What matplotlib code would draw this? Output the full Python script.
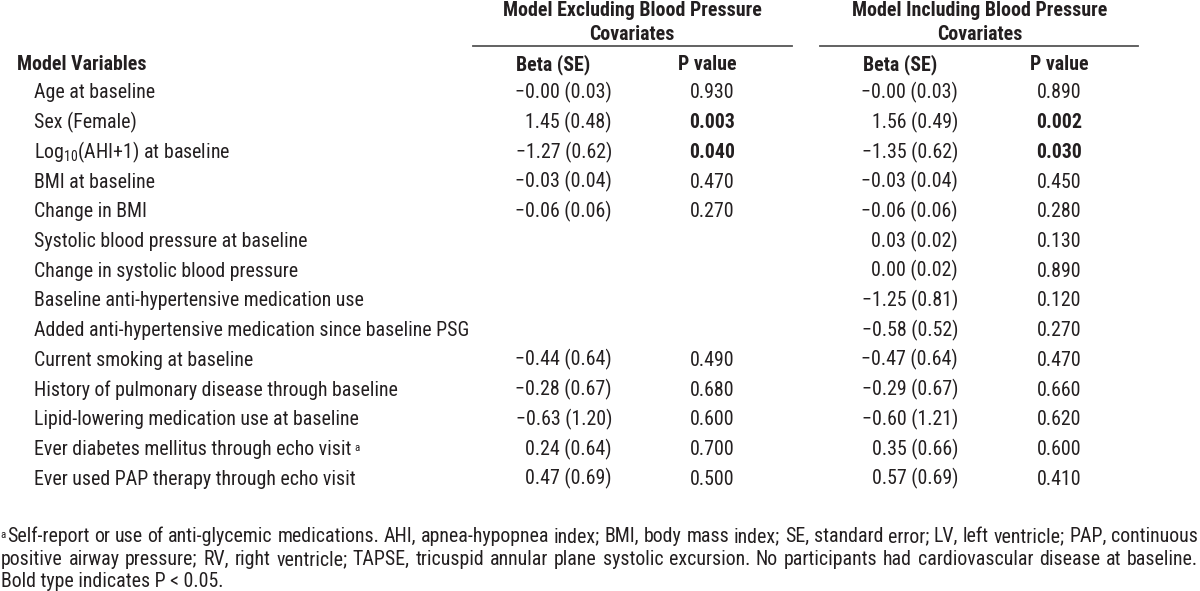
import matplotlib
matplotlib.use('Agg')
import matplotlib.pyplot as plt

# table content
labels = ['Age at baseline', 'Sex (Female)', 'Log$_{10}$(AHI+1) at baseline',
          'BMI at baseline', 'Change in BMI', 'Systolic blood pressure at baseline',
          'Change in systolic blood pressure', 'Baseline anti-hypertensive medication use',
          'Added anti-hypertensive medication since baseline PSG',
          'Current smoking at baseline', 'History of pulmonary disease through baseline',
          'Lipid-lowering medication use at baseline',
          'Ever diabetes mellitus through echo visit', 'Ever used PAP therapy through echo visit']
excl_beta = [-0.0, 1.45, -1.27, -0.03, -0.06, None, None, None, None, -0.44, -0.28, -0.63, 0.24, 0.47]
excl_se = [0.03, 0.48, 0.62, 0.04, 0.06, None, None, None, None, 0.64, 0.67, 1.20, 0.64, 0.69]
excl_p = [0.930, 0.003, 0.040, 0.470, 0.270, None, None, None, None, 0.490, 0.680, 0.600, 0.700, 0.500]
incl_beta = [-0.0, 1.56, -1.35, -0.03, -0.06, 0.03, 0.00, -1.25, -0.58, -0.47, -0.29, -0.60, 0.35, 0.57]
incl_se = [0.03, 0.49, 0.62, 0.04, 0.06, 0.02, 0.02, 0.81, 0.52, 0.64, 0.67, 1.21, 0.66, 0.69]
incl_p = [0.890, 0.002, 0.030, 0.450, 0.280, 0.130, 0.890, 0.120, 0.270, 0.470, 0.660, 0.620, 0.600, 0.410]
footnote_marks = {12: 'a'}
footnote = ['Self-report or use of anti-glycemic medications. AHI, apnea-hypopnea index; BMI, body mass index; SE, standard error; LV, left ventricle; PAP, continuous',
            'positive airway pressure; RV, right ventricle; TAPSE, tricuspid annular plane systolic excursion. No participants had cardiovascular disease at baseline.',
            'Bold type indicates P < 0.05.']

FONT = ['Roboto Condensed', 'DejaVu Sans']
plt.rcParams['font.family'] = FONT
plt.rcParams['mathtext.fontset'] = 'custom'
plt.rcParams['mathtext.rm'] = 'Roboto Condensed'
plt.rcParams['mathtext.it'] = 'Roboto Condensed:italic'
plt.rcParams['mathtext.bf'] = 'Roboto Condensed:bold'
INK = '#231f20'
BASE = 7  # baseline sits this far below the middle of the capitals


def fmt_beta(b, se):
    return ('%.2f (%.2f)' % (b, se)).replace('-', '\u2212')


def put(x, y, s, **kw):
    kw.setdefault('fontsize', FS)
    kw.setdefault('color', INK)
    return ax.text(x, y + BASE, s, va='baseline', **kw)


fig = plt.figure(figsize=(12, 5.91), dpi=100)
ax = fig.add_axes([0, 0, 1, 1])
ax.set_xlim(0, 1200)
ax.set_ylim(591, 0)
ax.axis('off')
fig.canvas.draw()
rend = fig.canvas.get_renderer()

# pick the font size so the longest label spans about the same width as in the print
probe = ax.text(0, 0, labels[8], fontsize=14)
FS = 14 * 438.0 / probe.get_window_extent(rend).width
probe.remove()

# group headers
for cx, (l0, l1), (x0, x1) in [(632, ('Model Excluding Blood Pressure', 'Covariates'), (473, 792)),
                               (980, ('Model Including Blood Pressure', 'Covariates'), (820, 1138))]:
    put(cx, 9, l0, ha='center', fontweight='bold')
    put(cx, 33, l1, ha='center', fontweight='bold')
    ax.plot([x0, x1], [46, 46], color='#555555', lw=1.3)

put(17, 63, 'Model Variables', ha='left', fontweight='bold')
for cx, s in [(553, 'Beta (SE)'), (707, 'P value'), (900, 'Beta (SE)'), (1059, 'P value')]:
    put(cx, 63, s, ha='center', fontweight='bold')

row0, step = 91.5, 29.7
for i, lab in enumerate(labels):
    y = row0 + step * i
    t = put(34, y, lab, ha='left')
    if i in footnote_marks:
        bb = t.get_window_extent(rend)
        put(bb.x1 + 3, y - 4, footnote_marks[i], ha='left', fontsize=FS * 0.55)
    if excl_beta[i] is not None:
        put(612, y, fmt_beta(excl_beta[i], excl_se[i]), ha='right')
        put(712, y, '%.3f' % excl_p[i], ha='center',
            fontweight='bold' if excl_p[i] < 0.05 else 'normal')
    put(958, y, fmt_beta(incl_beta[i], incl_se[i]), ha='right')
    put(1059, y, '%.3f' % incl_p[i], ha='center',
        fontweight='bold' if incl_p[i] < 0.05 else 'normal')

# footnote, first two lines justified
foot_y = [535, 558, 580]
put(0, foot_y[0] - 4, 'a', ha='left', fontsize=FS * 0.55)
for k, line in enumerate(footnote):
    x_start = 7 if k == 0 else 1
    if k < 2:
        words = line.split(' ')
        arts = [put(0, foot_y[k], w, ha='left') for w in words]
        widths = [a.get_window_extent(rend).width for a in arts]
        gap = (1198 - x_start - sum(widths)) / (len(words) - 1)
        x = x_start
        for a, w in zip(arts, widths):
            a.set_x(x)
            x += w + gap
    else:
        put(x_start, foot_y[k], line, ha='left')

fig.savefig('out.png', dpi=100, facecolor='white')
